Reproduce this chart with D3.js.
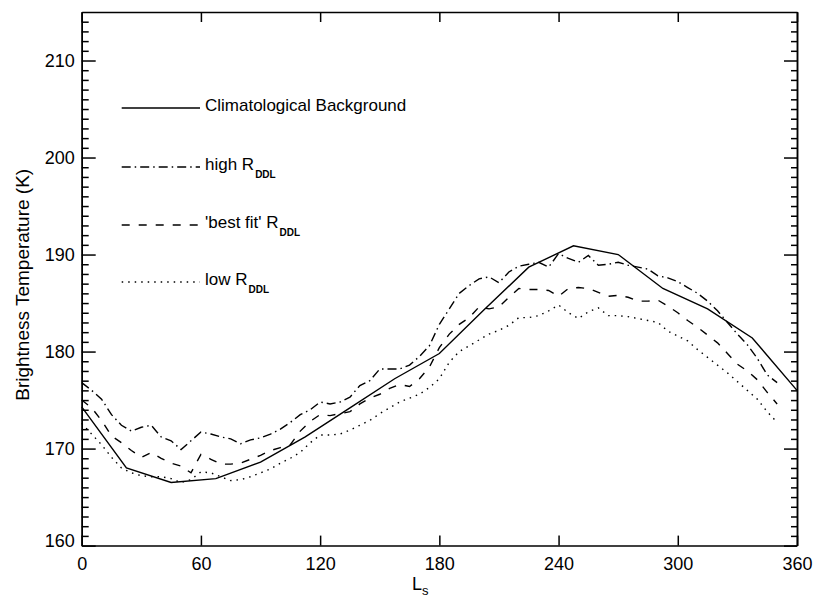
<!DOCTYPE html>
<meta charset="utf-8">
<style>

body {
  margin: 0;
  background-color: #fff;
}

text {
  font-family: "Liberation Sans", Arial, sans-serif;
  fill: #000;
}

.axis path,
.axis line {
  stroke: #000;
  stroke-width: 1.5px;
}

.curve {
  fill: none;
  stroke: #000;
  stroke-width: 1.4px;
}

</style>
<body>
<svg width="815" height="601"></svg>
<script src="https://cdn.jsdelivr.net/npm/d3@7"></script>
<script>

// climatological background, one value every 22.5 deg of Ls
var lsClim = [0, 22.5, 45, 67.5, 90, 112.5, 135, 157.5, 180, 202.5, 225, 247.5, 270, 292.5, 315, 337.5, 360];
var tClim  = [174.3, 168.0, 166.5, 166.9, 168.6, 171.2, 174.2, 177.2, 179.8, 184.3, 188.7, 190.9, 190.0, 186.5, 184.4, 181.4, 176.0];

// model runs, every 5 deg of Ls
var lsRun = [0, 5, 10, 15, 20, 25, 30, 35, 40, 45, 50, 55, 60, 65, 70, 75, 80, 85, 90, 95,
             100, 105, 110, 115, 120, 125, 130, 135, 140, 145, 150, 155, 160, 165, 170, 175,
             180, 185, 190, 195, 200, 205, 210, 215, 220, 225, 230, 235, 240, 245, 250, 255,
             260, 265, 270, 275, 280, 285, 290, 295, 300, 305, 310, 315, 320, 325, 330, 335,
             340, 345, 350];

var tHigh = [176.8, 176.0, 175.1, 173.5, 172.4, 171.8, 172.2, 172.4, 171.2, 170.8, 169.9, 170.8,
             171.7, 171.5, 171.2, 171.0, 170.5, 170.9, 171.1, 171.5, 172.0, 172.7, 173.5, 174.0,
             174.8, 174.6, 174.8, 175.3, 176.5, 177.0, 178.2, 178.2, 178.2, 178.6, 179.5, 180.6,
             182.8, 184.4, 186.0, 186.8, 187.5, 187.7, 187.1, 188.2, 188.8, 189.0, 189.2, 188.7,
             190.1, 189.6, 189.2, 189.9, 188.9, 189.0, 189.2, 188.9, 188.7, 188.5, 187.8, 187.6,
             187.2, 186.6, 186.0, 185.2, 184.2, 183.0, 181.8, 180.7, 179.3, 177.6, 176.8];

var tBest = [175.0, 174.2, 172.9, 171.3, 170.6, 169.8, 169.1, 169.6, 169.0, 168.5, 168.2, 167.5,
             169.4, 168.9, 168.4, 168.4, 168.5, 168.9, 169.3, 169.8, 170.1, 170.4, 171.8, 172.8,
             173.5, 173.4, 173.6, 173.8, 174.6, 175.2, 175.6, 176.2, 176.6, 176.4, 177.2, 178.4,
             180.4, 181.8, 182.8, 183.5, 184.6, 184.4, 184.6, 185.6, 186.5, 186.4, 186.4, 186.3,
             185.7, 186.5, 186.6, 186.5, 186.1, 185.7, 185.8, 185.6, 185.2, 185.2, 185.3, 184.7,
             184.0, 183.2, 182.5, 181.7, 180.9, 179.8, 178.7, 178.0, 177.1, 175.8, 174.6];

var tLow  = [172.6, 171.5, 170.4, 169.1, 168.0, 167.5, 167.2, 167.1, 167.1, 166.9, 166.5, 166.8,
             167.6, 167.5, 167.1, 166.7, 166.8, 167.1, 167.5, 167.9, 168.5, 169.0, 169.6, 170.6,
             171.4, 171.4, 171.5, 171.9, 172.4, 172.9, 173.6, 174.2, 174.8, 175.2, 175.6, 176.3,
             177.2, 178.9, 180.0, 180.6, 181.2, 181.8, 182.2, 182.7, 183.5, 183.5, 183.7, 184.2,
             184.8, 184.0, 183.4, 184.1, 184.5, 183.7, 183.7, 183.6, 183.4, 183.2, 183.0, 182.1,
             181.6, 181.1, 180.2, 179.4, 178.6, 177.8, 176.9, 176.0, 175.1, 173.8, 172.7];

var xTicks = [0, 60, 120, 180, 240, 300, 360];
var yTicks = [160, 170, 180, 190, 200, 210];
var yMinor = [161, 162, 163, 164, 165, 166, 167, 168, 169, 171, 172, 173, 174, 175, 176, 177, 178, 179,
              181, 182, 183, 184, 185, 186, 187, 188, 189, 191, 192, 193, 194, 195, 196, 197, 198, 199,
              201, 202, 203, 204, 205, 206, 207, 208, 209, 211, 212, 213, 214];

var legendNames = ["Climatological Background", "high R", "'best fit' R", "low R"];
var legendSubs  = ["", "DDL", "DDL", "DDL"];
var dashes      = [null, "9,4,1.5,4", "8,9", "1.5,5"];

var svg = d3.select("svg"),
    plotL = 81.7, plotR = 797, plotT = 12, plotB = 545.6;

var x = d3.scaleLinear().domain([0, 360]).range([plotL, plotR]);
var y = d3.scaleLinear().domain([160, 215]).range([plotB, plotT]);

function styleText(sel, size) {
  sel.selectAll("text")
    .style("font-size", size + "px")
    .style("font-family", "Liberation Sans, Arial, sans-serif")
    .attr("fill", "#000");
}

// y axes, ticks pointing inward
var gl = svg.append("g").attr("class", "axis").attr("transform", "translate(" + plotL + ",0)")
    .call(d3.axisLeft(y).tickValues(yTicks).tickSize(-14).tickSizeOuter(0).tickPadding(7));
styleText(gl, 18);
// bottom label sits a little above its tick, as in the original plot
gl.selectAll("text").filter(function(d) { return d === 160; }).attr("dy", "0.05em");
svg.append("g").attr("class", "axis").attr("transform", "translate(" + plotL + ",0)")
    .call(d3.axisLeft(y).tickValues(yMinor).tickSize(-7).tickSizeOuter(0).tickFormat(""));

svg.append("g").attr("class", "axis").attr("transform", "translate(" + plotR + ",0)")
    .call(d3.axisRight(y).tickValues(yTicks).tickSize(-13).tickSizeOuter(0).tickFormat(""));
svg.append("g").attr("class", "axis").attr("transform", "translate(" + plotR + ",0)")
    .call(d3.axisRight(y).tickValues(yMinor).tickSize(-6).tickSizeOuter(0).tickFormat(""));

// x axes
var gb = svg.append("g").attr("class", "axis").attr("transform", "translate(0," + plotB + ")")
    .call(d3.axisBottom(x).tickValues(xTicks).tickSize(-10).tickSizeOuter(0).tickPadding(12));
styleText(gb, 18);
svg.append("g").attr("class", "axis").attr("transform", "translate(0," + plotT + ")")
    .call(d3.axisTop(x).tickValues(xTicks).tickSize(-10).tickSizeOuter(0).tickFormat(""));

// axis titles
svg.append("text")
    .attr("transform", "translate(29," + ((plotT + plotB) / 2 + 6) + ") rotate(-90)")
    .attr("text-anchor", "middle")
    .style("font-size", "19px")
    .text("Brightness Temperature (K)");

var xt = svg.append("text")
    .attr("x", 412)
    .attr("y", 590)
    .style("font-size", "18px")
    .text("L");
xt.append("tspan").attr("dy", 5).style("font-size", "13px").text("s");

// curves
var line = d3.line()
    .x(function(d) { return x(d[0]); })
    .y(function(d) { return y(d[1]); });

var series = [
  d3.zip(lsClim, tClim),
  d3.zip(lsRun, tHigh),
  d3.zip(lsRun, tBest),
  d3.zip(lsRun, tLow)
];

series.forEach(function(s, i) {
  svg.append("path")
      .datum(s)
      .attr("class", "curve")
      .attr("stroke-dasharray", dashes[i])
      .attr("d", line);
});

// legend
var legendY = [108, 167, 225, 282];

legendNames.forEach(function(name, i) {
  svg.append("line")
      .attr("class", "curve")
      .attr("x1", 121.7)
      .attr("x2", 200)
      .attr("y1", legendY[i])
      .attr("y2", legendY[i])
      .attr("stroke-dasharray", dashes[i]);

  var t = svg.append("text")
      .attr("x", 205)
      .attr("y", legendY[i] + 3)
      .style("font-size", "17px")
      .text(name);

  if (legendSubs[i]) {
    t.append("tspan")
        .attr("dy", 8)
        .attr("dx", 1)
        .style("font-size", "10px")
        .style("font-weight", "bold")
        .text(legendSubs[i]);
  }
});

</script>
</body>
